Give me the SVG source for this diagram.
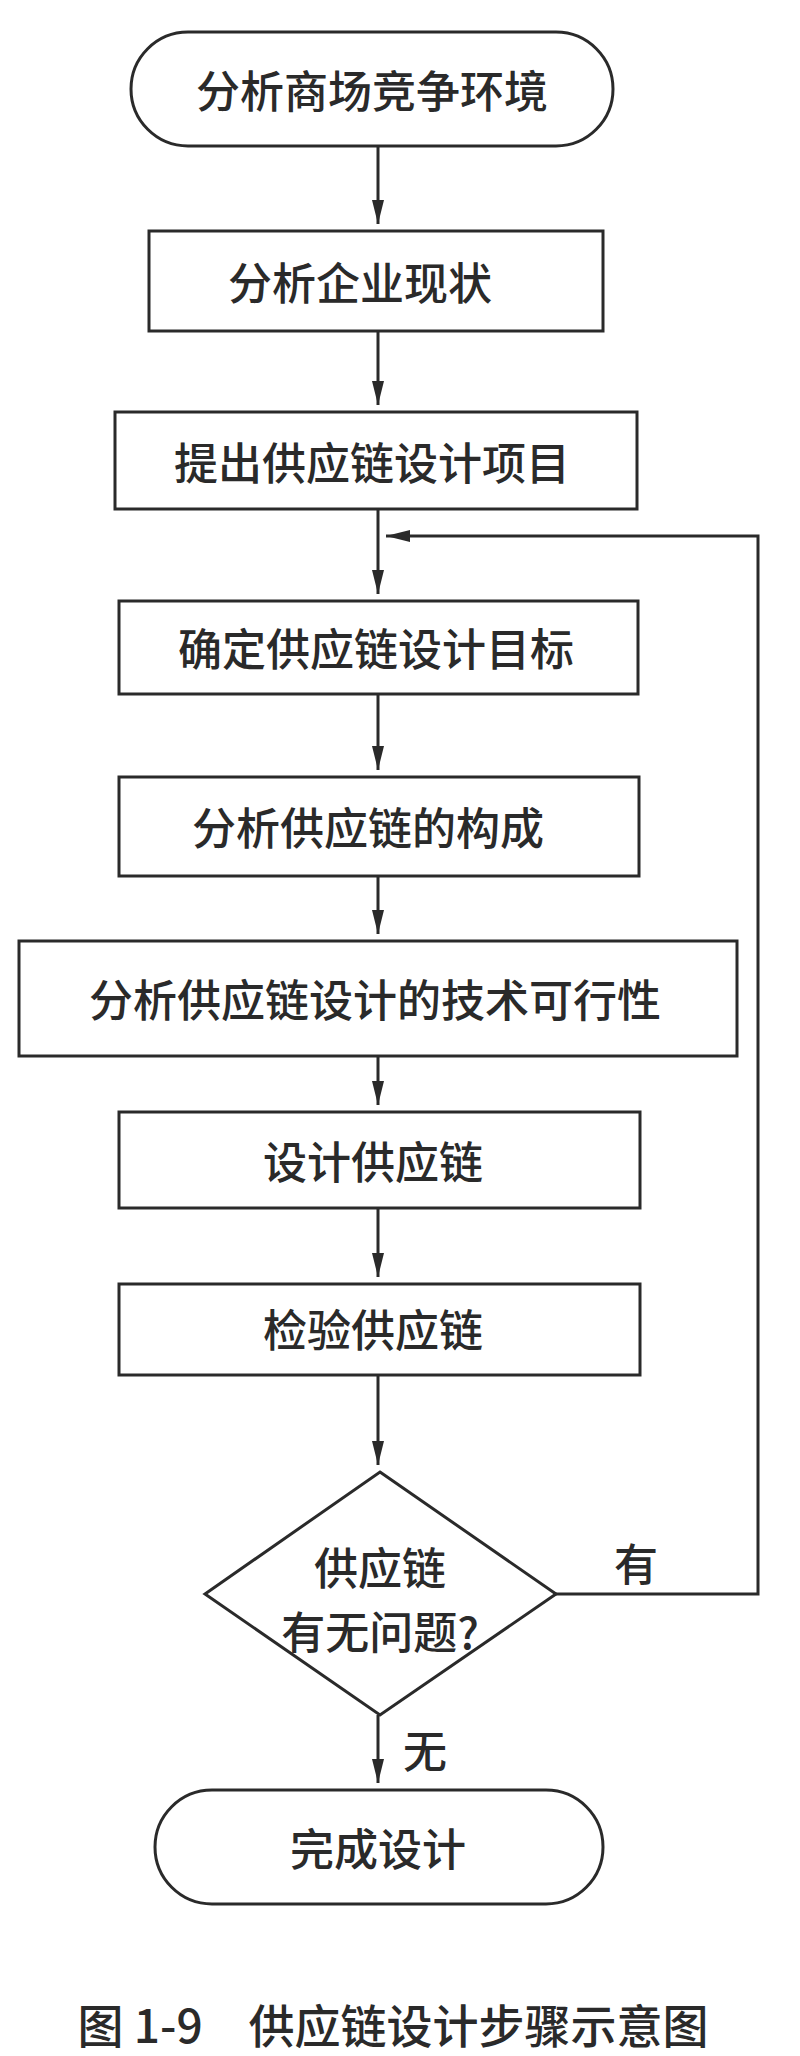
<svg xmlns="http://www.w3.org/2000/svg" width="800" height="2056" viewBox="0 0 800 2056">
<style>
.n{fill:#fff;stroke:#2a2a2a;stroke-width:3}
.t{font-family:"Noto Sans CJK SC",sans-serif;font-size:44px;font-weight:500;fill:#2a2a2a;text-anchor:middle;dominant-baseline:central}
.c{fill:none;stroke:#2a2a2a;stroke-width:3}
</style>
<defs><marker id="a" viewBox="0 0 24 12" refX="24" refY="6" markerWidth="24" markerHeight="12" orient="auto" markerUnits="userSpaceOnUse"><path d="M0,0 L24,6 L0,12 z" fill="#2a2a2a"/></marker></defs>
<rect width="800" height="2056" fill="#fff"/>
<g id="connectors">
<path class="c" d="M378,146 V224" marker-end="url(#a)"/>
<path class="c" d="M378,331 V405" marker-end="url(#a)"/>
<path class="c" d="M378,509 V594" marker-end="url(#a)"/>
<path class="c" d="M378,694 V770" marker-end="url(#a)"/>
<path class="c" d="M378,876 V934" marker-end="url(#a)"/>
<path class="c" d="M378,1056 V1105" marker-end="url(#a)"/>
<path class="c" d="M378,1208 V1277" marker-end="url(#a)"/>
<path class="c" d="M378,1375 V1465" marker-end="url(#a)"/>
<path class="c" d="M378,1715 V1783" marker-end="url(#a)"/>
<path class="c" d="M556,1594 H758 V536 H386" marker-end="url(#a)"/>
<text class="t" x="636" y="1562">有</text>
<text class="t" x="425" y="1749">无</text>
</g>
<g id="n1"><rect class="n" x="131" y="32" width="482" height="114" rx="57"/><text class="t" x="372" y="89">分析商场竞争环境</text></g>
<g id="n2"><rect class="n" x="149" y="231" width="454" height="100"/><text class="t" x="360" y="281">分析企业现状</text></g>
<g id="n3"><rect class="n" x="115" y="412" width="522" height="97"/><text class="t" x="372" y="461">提出供应链设计项目</text></g>
<g id="n4"><rect class="n" x="119" y="601" width="519" height="93"/><text class="t" x="376" y="647">确定供应链设计目标</text></g>
<g id="n5"><rect class="n" x="119" y="777" width="520" height="99"/><text class="t" x="368" y="826">分析供应链的构成</text></g>
<g id="n6"><rect class="n" x="19" y="941" width="718" height="115"/><text class="t" x="375" y="998">分析供应链设计的技术可行性</text></g>
<g id="n7"><rect class="n" x="119" y="1112" width="521" height="96"/><text class="t" x="373" y="1160">设计供应链</text></g>
<g id="n8"><rect class="n" x="119" y="1284" width="521" height="91"/><text class="t" x="373" y="1328">检验供应链</text></g>
<g id="n9"><polygon class="n" points="380,1472 556,1594 380,1715 205,1594"/><text class="t" x="380" y="1566">供应链</text><text class="t" x="380" y="1630">有无问题?</text></g>
<g id="n10"><rect class="n" x="155" y="1790" width="448" height="114" rx="57"/><text class="t" x="378" y="1847">完成设计</text></g>
<text class="t" x="393" y="2023" style="font-size:46px">图 1-9　供应链设计步骤示意图</text>
</svg>
